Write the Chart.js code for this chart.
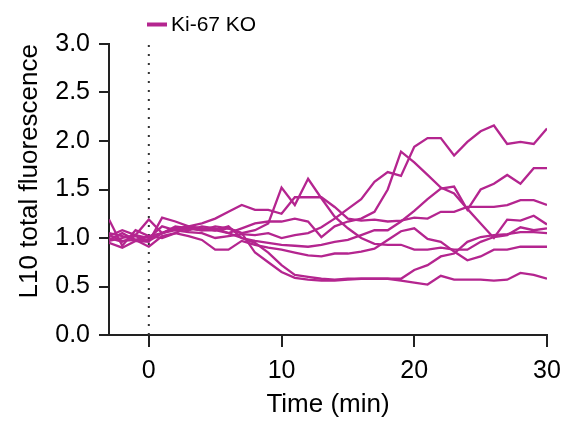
<!DOCTYPE html>
<html>
<head>
<meta charset="utf-8">
<script src="https://cdn.jsdelivr.net/npm/chart.js@4/dist/chart.umd.min.js"></script>
<style>
  html, body { margin: 0; padding: 0; background: #fff; }
  #wrap { width: 571px; height: 421px; position: relative; }
</style>
</head>
<body>
<div id="wrap"><canvas id="chart"></canvas></div>
<script>
// Temps (min) et intensités relatives
const times = [-3, -2, -1, 0, 1, 2, 3, 4, 5, 6, 7, 8, 9, 10, 11, 12, 13, 14, 15, 16,
               17, 18, 19, 20, 21, 22, 23, 24, 25, 26, 27, 28, 29, 30];

const cellA = [1.00, 0.96, 1.02, 0.97, 1.05, 1.08, 1.06, 1.05, 1.00, 1.02, 1.04, 1.03, 1.05,
               1.00, 1.03, 1.05, 1.11, 1.20, 1.30, 1.40, 1.58,
               1.68, 1.64, 1.94, 2.03, 2.03, 1.85, 1.99, 2.10, 2.16, 1.97, 1.99, 1.97, 2.13];
const cellB = [0.97, 1.00, 1.03, 1.19, 1.05, 1.10, 1.08, 1.12, 1.10, 1.05, 1.00, 0.97, 0.95,
               0.93, 0.92, 0.91, 0.93, 0.96, 0.98, 1.03, 1.08,
               1.08, 1.17, 1.28, 1.40, 1.51, 1.53, 1.29, 1.50, 1.56, 1.65, 1.56, 1.72, 1.72];
const cellC = [1.05, 1.02, 0.98, 0.98, 1.05, 1.10, 1.12, 1.15, 1.20, 1.27, 1.34, 1.29, 1.29,
               1.25, 1.42, 1.42, 1.42, 1.32, 1.20, 1.18, 1.19,
               1.17, 1.18, 1.21, 1.20, 1.27, 1.27, 1.32, 1.32, 1.32, 1.34, 1.39, 1.39, 1.34];
const cellD = [1.02, 1.08, 1.03, 1.00, 1.12, 1.08, 1.10, 1.08, 1.08, 1.05, 1.10, 1.15, 1.17,
               1.17, 1.20, 1.17, 1.01, 1.12, 1.17, 1.20, 1.27,
               1.50, 1.89, 1.78, 1.65, 1.52, 1.46, 1.30, 1.15, 1.00, 1.19, 1.18, 1.23, 1.14];
const cellE = [1.19, 0.92, 1.08, 1.02, 1.00, 1.05, 1.12, 1.10, 1.08, 1.10, 1.05, 1.08, 1.15,
               1.52, 1.34, 1.61, 1.41, 1.22, 1.10, 1.00, 0.94,
               0.93, 0.93, 0.88, 0.88, 0.90, 0.88, 0.88, 0.96, 1.01, 1.03, 1.11, 1.08, 1.10];
const cellF = [0.95, 0.90, 0.97, 0.96, 1.21, 1.17, 1.12, 1.10, 1.08, 1.12, 1.00, 0.95, 0.85,
               0.72, 0.62, 0.60, 0.58, 0.57, 0.58, 0.58, 0.58,
               0.58, 0.58, 0.67, 0.72, 0.81, 0.84, 0.96, 1.01, 1.03, 1.04, 1.06, 1.06, 1.05];
const cellG = [1.03, 0.97, 0.98, 0.91, 1.02, 1.05, 1.02, 0.98, 0.88, 0.88, 0.97, 0.93, 0.90,
               0.88, 0.85, 0.82, 0.81, 0.84, 0.84, 0.86, 0.89,
               0.98, 1.07, 1.10, 0.99, 0.96, 0.86, 0.77, 0.81, 0.88, 0.88, 0.91, 0.91, 0.91];
const cellH = [0.98, 1.05, 0.98, 1.02, 1.05, 1.12, 1.10, 1.08, 1.12, 1.10, 1.05, 0.85, 0.75,
               0.65, 0.59, 0.57, 0.56, 0.56, 0.57, 0.58, 0.58,
               0.58, 0.56, 0.54, 0.52, 0.61, 0.57, 0.57, 0.57, 0.56, 0.57, 0.64, 0.62, 0.58];

const xTicks = [0, 10, 20, 30];
const yTicks = [0, 0.5, 1.0, 1.5, 2.0, 2.5, 3.0];
const onsetLine = [0, 3];   // trait pointillé à t = 0
const legendLabel = 'Ki-67 KO';

const MAGENTA = '#b4258f';
const AXIS = '#222222';
const FONT = "'Liberation Sans', Arial, sans-serif";

function toPoints(values) {
    return times.map(function (t, i) { return { x: t, y: values[i] }; });
}

function cellDataset(values) {
    return {
        label: legendLabel,
        data: toPoints(values),
        borderColor: MAGENTA,
        borderWidth: 2.3,
        pointRadius: 0,
        tension: 0,
        fill: false
    };
}

const datasets = [cellA, cellB, cellC, cellD, cellE, cellF, cellG, cellH].map(cellDataset);
datasets.push({
    label: 'onset',
    data: onsetLine.map(function (v) { return { x: 0, y: v }; }),
    borderColor: '#333333',
    borderWidth: 2,
    borderDash: [2, 7],
    pointRadius: 0
});

// légende dessinée à la main : un seul élément pour toutes les cellules
const legendPlugin = {
    id: 'koLegend',
    afterDraw: function (chart) {
        const ctx = chart.ctx;
        ctx.save();
        ctx.strokeStyle = MAGENTA;
        ctx.lineWidth = 4;
        ctx.beginPath();
        ctx.moveTo(147, 24.5);
        ctx.lineTo(167, 24.5);
        ctx.stroke();
        ctx.fillStyle = '#000';
        ctx.font = '21px ' + FONT;
        ctx.textBaseline = 'middle';
        ctx.fillText(legendLabel, 171, 25);
        ctx.restore();
    }
};

new Chart(document.getElementById('chart'), {
    type: 'line',
    data: { datasets: datasets },
    options: {
        responsive: true,
        maintainAspectRatio: false,
        animation: false,
        layout: { padding: { left: 0, right: 24, top: 44, bottom: 0 } },
        plugins: { legend: { display: false }, tooltip: { enabled: false } },
        scales: {
            x: {
                type: 'linear',
                min: -3,
                max: 30,
                afterBuildTicks: function (scale) {
                    scale.ticks = xTicks.map(function (v) { return { value: v }; });
                },
                afterFit: function (scale) { scale.height = 86; },
                grid: { drawOnChartArea: false, drawTicks: true, tickLength: 12, color: AXIS, lineWidth: 2 },
                border: { display: true, color: AXIS, width: 2 },
                ticks: { color: '#000', padding: 9, maxRotation: 0, font: { family: FONT, size: 25 } },
                title: {
                    display: true,
                    text: 'Time (min)',
                    color: '#000',
                    font: { family: FONT, size: 26 },
                    padding: { top: 0, bottom: 1 }
                }
            },
            y: {
                min: 0,
                max: 3,
                afterBuildTicks: function (scale) {
                    scale.ticks = yTicks.map(function (v) { return { value: v }; });
                },
                afterFit: function (scale) { scale.width = 109; },
                grid: { drawOnChartArea: false, drawTicks: true, tickLength: 10, color: AXIS, lineWidth: 2 },
                border: { display: true, color: AXIS, width: 2 },
                ticks: {
                    color: '#000',
                    padding: 9,
                    font: { family: FONT, size: 25 },
                    callback: function (v) { return Number(v).toFixed(1); }
                },
                title: {
                    display: true,
                    text: 'L10 total fluorescence',
                    align: 'end',
                    color: '#000',
                    font: { family: FONT, size: 26 },
                    padding: { top: 14, bottom: 0 }
                }
            }
        }
    },
    plugins: [legendPlugin]
});
</script>
</body>
</html>
